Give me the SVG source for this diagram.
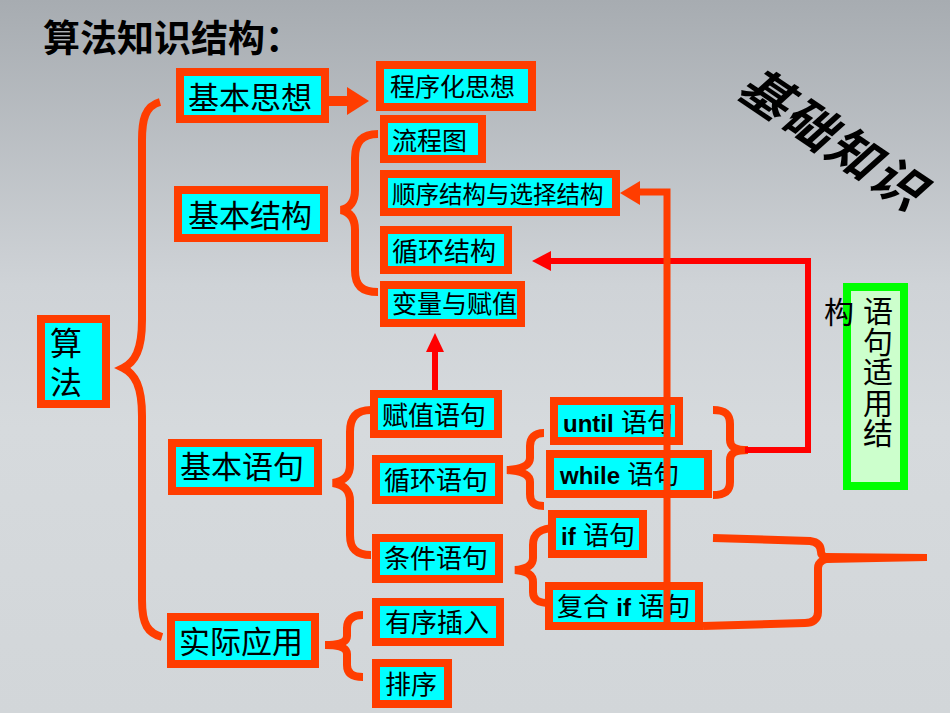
<svg xmlns="http://www.w3.org/2000/svg" width="950" height="713" viewBox="0 0 950 713">
<defs>
<linearGradient id="bg" x1="0" y1="0" x2="0" y2="1">
<stop offset="0" stop-color="#a7acb1"/>
<stop offset="0.4" stop-color="#cfd3d7"/>
<stop offset="0.6" stop-color="#d6dadd"/>
<stop offset="1" stop-color="#d2d6d9"/>
</linearGradient>
<style>
.box{fill:#00ffff;stroke:#ff3d00;stroke-width:8}
.t{font-family:"Liberation Sans","Noto Sans CJK SC",sans-serif;fill:#000}
.L{font-size:31px}
.M{font-size:26px}
.b{font-weight:bold;font-size:24px}
.br{fill:none;stroke:#ff3d00;stroke-width:8}
</style>
</defs>
<rect x="0" y="0" width="950" height="713" fill="url(#bg)"/>
<text class="t" x="43" y="52" font-size="37" font-weight="bold">算法知识结构：</text>
<text class="t" transform="translate(832,140) rotate(34)" x="0" y="17" text-anchor="middle" font-size="50" font-weight="bold" font-style="italic" letter-spacing="3">基础知识</text>

<g id="braces">
<path class="br" d="M160,102 C145,106 142,120 142,140 L142,320 C142,350 135,362 123,368 C135,374 142,386 142,416 L142,600 C142,625 148,633 162,637"/>
<path class="br" d="M378,134 C362,134 355,142 355,158 L355,190 C355,202 350,208 341,210 C350,212 355,218 355,230 L355,270 C355,286 362,292 378,292"/>
<path class="br" d="M371,410 C356,410 350,418 350,432 L350,465 C350,476 344,481 333,483 C344,485 350,490 350,501 L350,535 C350,549 356,555 371,555"/>
<path class="br" d="M544,433 C534,433 530,438 530,446 L530,458 C530,465 522,469 507,470 C522,471 530,475 530,482 L530,494 C530,502 534,506 544,506"/>
<path class="br" d="M557,528 C540,528 533,533 533,545 L533,558 C533,565 527,569 515,570 C527,571 533,575 533,582 L533,592 C533,600 538,603 550,603"/>
<path class="br" d="M363,615 C352,615 347,620 347,628 L347,636 C347,642 340,645 325,645 C340,645 347,648 347,654 L347,665 C347,673 352,677 363,677"/>
<path class="br" d="M713,410 C725,410 730,414 730,424 L730,440 C730,447 735,450 748,450 C735,450 730,453 730,460 L730,482 C730,491 725,495 713,495"/>
<path class="br" d="M713,538 L810,541 C818,542 821,546 821,552 C821,556 826,558 832,558 C826,558 818,561 818,568 L818,612 C818,620 812,623 805,623 L703,626"/>
<path fill="#ff3d00" d="M826,553 L927,554 L927,561 L826,563 Z"/>
</g>

<g id="n1"><rect class="box" x="180" y="72" width="145" height="47"/><text class="t L" x="188" y="109">基本思想</text></g>
<g id="n2"><rect class="box" x="380" y="65" width="152" height="42"/><text class="t" x="390" y="96" font-size="25">程序化思想</text></g>
<g id="n3"><rect class="box" x="384" y="119" width="98" height="40"/><text class="t" x="392" y="150" font-size="25">流程图</text></g>
<g id="n4"><rect class="box" x="384" y="174" width="232" height="38"/><text class="t" x="392" y="203" font-size="23.5">顺序结构与选择结构</text></g>
<g id="n5"><rect class="box" x="384" y="230" width="124" height="40"/><text class="t M" x="392" y="261">循环结构</text></g>
<g id="n6"><rect class="box" x="384" y="285" width="137" height="38"/><text class="t" x="392" y="313" font-size="25">变量与赋值</text></g>
<g id="n7"><rect class="box" x="178" y="190" width="146" height="48"/><text class="t L" x="188" y="227">基本结构</text></g>
<g id="n8"><rect class="box" x="41" y="319" width="65" height="85"/><text class="t" x="66" y="355" font-size="32" text-anchor="middle">算</text><text class="t" x="66" y="394" font-size="32" text-anchor="middle">法</text></g>
<g id="n9"><rect class="box" x="172" y="443" width="146" height="48"/><text class="t L" x="180" y="478">基本语句</text></g>
<g id="n10"><rect class="box" x="171" y="617" width="144" height="47"/><text class="t L" x="179" y="653">实际应用</text></g>
<g id="n11"><rect class="box" x="374" y="394" width="124" height="40"/><text class="t M" x="382" y="425">赋值语句</text></g>
<g id="n12"><rect class="box" x="376" y="459" width="123" height="41"/><text class="t M" x="384" y="490">循环语句</text></g>
<g id="n13"><rect class="box" x="376" y="538" width="123" height="41"/><text class="t M" x="384" y="568">条件语句</text></g>
<g id="n14"><rect class="box" x="554" y="401" width="125" height="40"/><text class="t M" x="563" y="432"><tspan class="b">until</tspan> 语句</text></g>
<g id="n15"><rect class="box" x="550" y="454" width="158" height="40"/><text class="t M" x="560" y="484"><tspan class="b">while</tspan> 语句</text></g>
<g id="n16"><rect class="box" x="552" y="514" width="91" height="40"/><text class="t M" x="561" y="545"><tspan class="b">if</tspan> 语句</text></g>
<g id="n17"><rect class="box" x="549" y="586" width="150" height="40"/><text class="t M" x="557" y="616">复合 <tspan class="b">if</tspan> 语句</text></g>
<g id="n18"><rect class="box" x="376" y="602" width="124" height="40"/><text class="t M" x="385" y="632">有序插入</text></g>
<g id="n19"><rect class="box" x="376" y="663" width="72" height="41"/><text class="t M" x="385" y="694">排序</text></g>
<g id="n20"><rect x="847" y="287" width="57" height="199" fill="#ccffcc" stroke="#00ff00" stroke-width="8"/>
<text class="t" font-size="30" text-anchor="middle"><tspan x="878" y="322">语</tspan><tspan x="878" y="352.5">句</tspan><tspan x="878" y="383">适</tspan><tspan x="878" y="413.5">用</tspan><tspan x="878" y="444">结</tspan></text>
<text class="t" x="839" y="322.5" font-size="30" text-anchor="middle">构</text></g>

<g id="connectors">
<path d="M329,101 L349,101" stroke="#ff3d00" stroke-width="10" fill="none"/>
<polygon points="347,87 369,101 347,115" fill="#ff3d00"/>
<path d="M435,390 L435,350" stroke="#ff0000" stroke-width="6" fill="none"/>
<polygon points="426,352 435,333 444,352" fill="#ff0000"/>
<path d="M745,450 L808,450 L808,261 L549,261" stroke="#ff0000" stroke-width="6" fill="none"/>
<polygon points="551,251 532,261 551,271" fill="#ff0000"/>
<path d="M667,626 L667,192 L638,192" stroke="#ff3d00" stroke-width="7" fill="none"/>
<polygon points="640,181 620,193 640,205" fill="#ff3d00"/>
</g>
</svg>
